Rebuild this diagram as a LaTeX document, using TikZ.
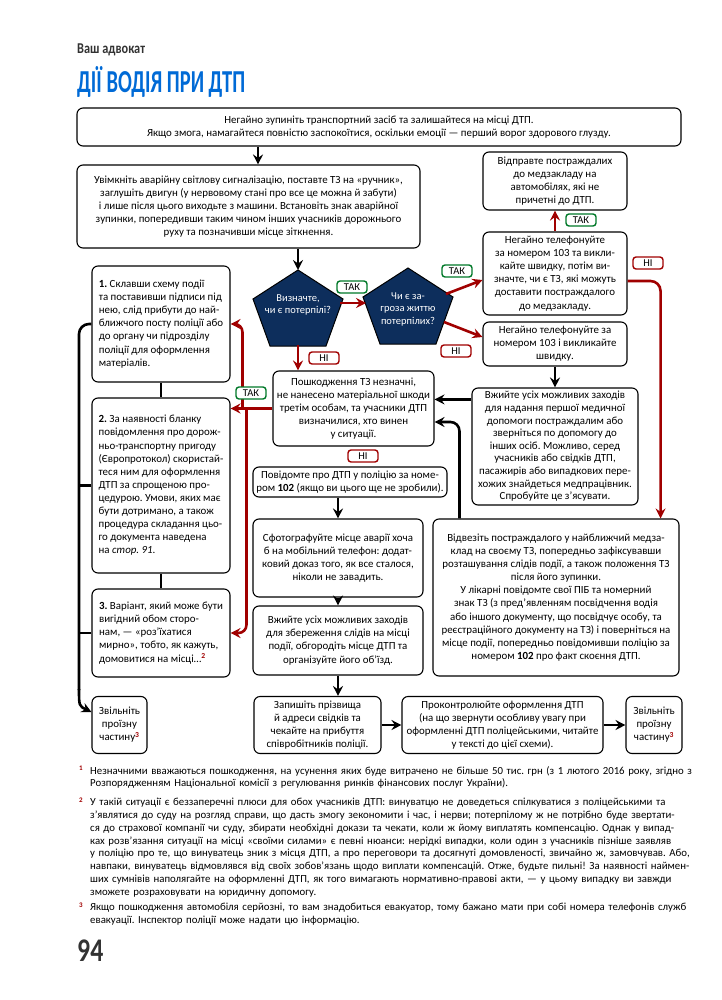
\documentclass[tikz,border=0pt]{standalone}
\usepackage{fontspec}
\setmainfont{Carlito}
\usepackage{tikz}
\usetikzlibrary{arrows.meta}

\definecolor{titleblue}{RGB}{0,106,214}
\definecolor{darkred}{RGB}{160,0,0}
\definecolor{okgreen}{RGB}{0,120,40}
\definecolor{navy}{RGB}{13,46,92}
\definecolor{headgrey}{RGB}{50,50,50}

\newcommand{\fnm}[1]{\textsuperscript{\textcolor{darkred}{\bfseries #1}}}
\newcommand{\fline}[1]{\hbox to 595pt{#1}}
\newcommand{\lline}[1]{\hbox{#1}}
\frenchspacing

\begin{document}
\begin{tikzpicture}[x=1pt,y=-1pt]
        \tikzstyle{every node} = [inner sep=0pt, font=\fontsize{10.9}{13.1}\selectfont]
        \tikzstyle{box} = [draw, line width=1.1pt, rounded corners=6pt, fill=white, align=center]
        \tikzstyle{lbox} = [box, align=left]
        \tikzstyle{takbox} = [draw=okgreen, line width=1.4pt, rounded corners=3pt, fill=white, minimum width=30pt, minimum height=12pt, font=\fontsize{10.5}{11}\selectfont]
        \tikzstyle{nibox} = [takbox, draw=darkred]
        \tikzstyle{ptext} = [text=white, align=center, font=\fontsize{10.5}{12.5}\selectfont]
        \tikzstyle{blkline} = [line width=2.6pt]
        \tikzstyle{blk} = [blkline, -{Stealth[length=10pt,width=10pt,inset=3.5pt]}]
        \tikzstyle{redarr} = [blk, draw=darkred]
        \tikzstyle{fntext} = [anchor=north west, text width=595pt, align=left, font=\fontsize{10.8}{12.8}\selectfont]
        \tikzstyle{fnmark} = [anchor=north west, text=darkred, font=\fontsize{7}{7}\selectfont\bfseries]

        \useasboundingbox (0,0) rectangle (721,1000);

        % heading
        \node (head) [anchor=base west, text=headgrey] at (77,54) {\scalebox{0.82}[1]{\fontsize{15}{15}\selectfont\bfseries Ваш адвокат}};
        \node (title) [anchor=base west, text=titleblue] at (77,93) {\scalebox{0.64}[1]{\fontsize{32}{32}\selectfont\bfseries ДІЇ ВОДІЯ ПРИ ДТП}};

        % top of the scheme
        \node (top) [box, minimum width=604pt, minimum height=38pt] at (379,127) {Негайно зупиніть транспортний засіб та залишайтеся на місці ДТП.\\Якщо змога, намагайтеся повністю заспокоїтися, оскільки емоції~— перший ворог здорового глузду.};
        \node (warn) [box, minimum width=343pt, minimum height=83pt] at (248.5,206.5) {Увімкніть аварійну світлову сигналізацію, поставте ТЗ на «ручник»,\\заглушіть двигун (у нервовому стані про все це можна й забути)\\і лише після цього виходьте з машини. Встановіть знак аварійної\\зупинки, попередивши таким чином інших учасників дорожнього\\руху та позначивши місце зіткнення.};

        % right column
        \node (send) [box, minimum width=144pt, minimum height=58pt] at (555,181) {Відправте постраждалих\\до медзакладу на\\автомобілях, які не\\причетні до ДТП.};
        \node (calla) [box, minimum width=144pt, minimum height=83pt] at (555,273.5) {Негайно телефонуйте\\за номером 103 та викли-\\кайте швидку, потім ви-\\значте, чи є ТЗ, які можуть\\доставити постраждалого\\до медзакладу.};
        \node (callb) [box, minimum width=144pt, minimum height=44pt] at (555,344) {Негайно телефонуйте за\\номером 103 і викликайте\\швидку.};
        \node (aid) [box, minimum width=166pt, minimum height=117pt, font=\fontsize{10.9}{12.6}\selectfont] at (555,446.5) {Вжийте усіх можливих заходів\\для надання першої медичної\\допомоги постраждалим або\\зверніться по допомогу до\\інших осіб. Можливо, серед\\учасників або свідків ДТП,\\пасажирів або випадкових пере-\\хожих знайдеться медпрацівник.\\Спробуйте це з’ясувати.};
        \node (hosp) [box, minimum width=246pt, minimum height=157pt] at (556,597.5) {Відвезіть постраждалого у найближчий медза-\\клад на своєму ТЗ, попередньо зафіксувавши\\розташування слідів події, а також положення ТЗ\\після його зупинки.\\У лікарні повідомте свої ПІБ та номерний\\знак ТЗ (з пред’явленням посвідчення водія\\або іншого документу, що посвідчує особу, та\\реєстраційного документу на ТЗ) і поверніться на\\місце події, попередньо повідомивши поліцію за\\номером \textbf{102} про факт скоєння ДТП.};

        % middle column
        \node (minor) [box, minimum width=161pt, minimum height=75pt] at (353.5,408.5) {Пошкодження ТЗ незначні,\\не нанесено матеріальної шкоди\\третім особам, та учасники ДТП\\визначилися, хто винен\\у ситуації.};
        \node (police) [box, minimum width=194pt, minimum height=30pt] at (350,482) {Повідомте про ДТП у поліцію за номе-\\ром \textbf{102} (якщо ви цього ще не зробили).};
        \node (photo) [box, minimum width=170pt, minimum height=78pt] at (338,558) {Сфотографуйте місце аварії хоча\\б на мобільний телефон: додат-\\ковий доказ того, як все сталося,\\ніколи не завадить.};
        \node (traces) [box, minimum width=170pt, minimum height=69pt] at (338,640.5) {Вжийте усіх можливих заходів\\для збереження слідів на місці\\події, обгородіть місце ДТП та\\організуйте його об’їзд.};

        % left column
        \node (opt1) [lbox, minimum width=138pt, minimum height=116pt] at (161,324) {\textbf{1.} Склавши схему події\\та поставивши підписи під\\нею, слід прибути до най-\\ближчого посту поліції або\\до органу чи підрозділу\\поліції для оформлення\\матеріалів.};
        \node (opt2) [lbox, minimum width=138pt, minimum height=175pt] at (161,485.5) {\textbf{2.} За наявності бланку\\повідомлення про дорож-\\ньо-транспортну пригоду\\(Європротокол) скористай-\\теся ним для оформлення\\ДТП за спрощеною про-\\цедурою. Умови, яких має\\бути дотримано, а також\\процедура складання цьо-\\го документа наведена\\на \textit{стор. 91}.};
        \node (opt3) [lbox, minimum width=138pt, minimum height=88pt] at (161,633) {\textbf{3.} Варіант, який може бути\\вигідний обом сторо-\\нам,~— «роз’їхатися\\мирно», тобто, як кажуть,\\домовитися на місці…\fnm{2}};

        % bottom row
        \node (clearl) [box, minimum width=55pt, minimum height=57pt] at (119.5,725) {Звільніть\\проїзну\\частину\fnm{3}};
        \node (witness) [box, minimum width=127pt, minimum height=57pt] at (317.5,725) {Запишіть прізвища\\й адреси свідків та\\чекайте на прибуття\\співробітників поліції.};
        \node (control) [box, minimum width=201pt, minimum height=57pt] at (502.5,725) {Проконтролюйте оформлення ДТП\\(на що звернути особливу увагу при\\оформленні ДТП поліцейськими, читайте\\у тексті до цієї схеми).};
        \node (clearr) [box, minimum width=56pt, minimum height=57pt] at (654,725) {Звільніть\\проїзну\\частину\fnm{3}};

        % the two questions
        \filldraw[fill=navy, draw=black, line width=1pt] (298,270) -- ++(45,29) -- ++(-17,47) -- ++(-56,0) -- ++(-17,-47) -- cycle;
        \node (who) [ptext] at (298,305) {Визначте,\\чи є потерпілі?};
        \filldraw[fill=navy, draw=black, line width=1pt] (408,268) -- ++(45,29) -- ++(-17,47) -- ++(-56,0) -- ++(-17,-47) -- cycle;
        \node (threat) [ptext] at (408,309) {Чи є за-\\гроза життю\\потерпілих?};
        \coordinate (whotop) at (298,270);
        \coordinate (whobot) at (298,345);
        \coordinate (whoe) at (340,303);
        \coordinate (threatw) at (366,303);
        \coordinate (threatne) at (446,294);
        \coordinate (threatse) at (444,322);
        \coordinate (bus) at (79,690);

        % black connectors
        \draw[blk] ([xshift=9.5pt]warn.north |- top.south) -- ([xshift=9.5pt]warn.north);
        \draw[blk] (warn.south -| whotop) -- (whotop);
        \draw[blk] (callb.south) -- (aid.north);
        \draw[blk] ([yshift=-12pt]aid.north west) -- ([yshift=-12pt]aid.north west -| minor.east);
        \draw[blk, rounded corners=9pt] ([xshift=27pt]hosp.north west) |- ([yshift=-13.5pt]minor.east);
        \draw[blk] (police.south -| photo.north) -- (photo.north);
        \draw[blk] (photo.south) -- (traces.north);
        \draw[blk] (traces.south) -- (traces.south |- witness.north);
        \draw[blk] (witness.east) -- (control.west);
        \draw[blk] (control.east) -- (clearr.west);
        \draw[blkline] (opt1.south) -- (opt2.north);
        \draw[blkline] (opt2.south) -- (opt3.north);
        \draw[blkline, rounded corners=10pt] (opt1.west) -| (bus);
        \draw[blkline] (opt2.west) -- (opt2.west -| bus);
        \draw[blkline] (opt3.west) -- (opt3.west -| bus);
        \draw[blk] ([yshift=1pt]bus) .. controls (79,706) .. ([yshift=13pt]clearl.west);

        % red connectors
        \draw[redarr] (whoe) -- (threatw);
        \draw[redarr] (threatne) -- ([yshift=-6.5pt]calla.west);
        \draw[redarr] (threatse) -- ([yshift=7pt]callb.west);
        \draw[redarr] (calla.north) -- (send.south);
        \draw[redarr, rounded corners=10pt] ([yshift=-7.5pt]calla.east) -| ([xshift=-19pt]hosp.north east);
        \draw[redarr] (whobot) -- (whobot |- minor.north);
        \draw[redarr] (minor.west) -- (minor.west -| opt2.east);
        \draw[redarr, rounded corners=8pt] ([xshift=-30pt]minor.west) |- (opt1.east);
        \draw[redarr, rounded corners=8pt] ([xshift=-26pt]minor.west) |- (opt3.east);

        % yes / no marks
        \node (tak1) [takbox] at (352,287) {ТАК};
        \node (tak2) [takbox] at (457,271) {ТАК};
        \node (ni1) [nibox] at (456,351) {НІ};
        \node (ni2) [nibox] at (324,358) {НІ};
        \node (tak3) [takbox] at (581,220) {ТАК};
        \node (ni3) [nibox] at (648,263) {НІ};
        \node (ni4) [nibox] at (363,456) {НІ};
        \node (tak4) [takbox] at (251,393) {ТАК};

        % footnotes
        \node (markone) [fnmark] at (79,766) {1};
        \node (fnone) [fntext] at (90,766) {\fline{Незначними вважаються пошкодження, на усунення яких буде витрачено не більше 50 тис. грн (з 1 лютого 2016 року, згідно з}
        \lline{Розпорядженням Національної комісії з регулювання ринків фінансових послуг України).}};
        \node (marktwo) [fnmark] at (79,798) {2};
        \node (fntwo) [fntext] at (90,798) {\fline{У такій ситуації є беззаперечні плюси для обох учасників ДТП: винуватцю не доведеться спілкуватися з поліцейськими та}
        \fline{з’являтися до суду на розгляд справи, що дасть змогу зекономити і час, і нерви; потерпілому ж не потрібно буде звертати-}
        \fline{ся до страхової компанії чи суду, збирати необхідні докази та чекати, коли ж йому виплатять компенсацію. Однак у випад-}
        \fline{ках розв’язання ситуації на місці «своїми силами» є певні нюанси: нерідкі випадки, коли один з учасників пізніше заявляв}
        \fline{у поліцію про те, що винуватець зник з місця ДТП, а про переговори та досягнуті домовленості, звичайно ж, замовчував. Або,}
        \fline{навпаки, винуватець відмовлявся від своїх зобов’язань щодо виплати компенсацій. Отже, будьте пильні! За наявності наймен-}
        \fline{ших сумнівів наполягайте на оформленні ДТП, як того вимагають нормативно-правові акти,~— у цьому випадку ви завжди}
        \lline{зможете розраховувати на юридичну допомогу.}};
        \node (markthree) [fnmark] at (79,903) {3};
        \node (fnthree) [fntext] at (90,903) {\fline{Якщо пошкодження автомобіля серйозні, то вам знадобиться евакуатор, тому бажано мати при собі номера телефонів служб}
        \lline{евакуації. Інспектор поліції може надати цю інформацію.}};

        % page number
        \node (page) [anchor=base west, text=headgrey] at (77,961) {\scalebox{0.78}[1]{\fontsize{33}{33}\selectfont\bfseries 94}};
\end{tikzpicture}
\end{document}
